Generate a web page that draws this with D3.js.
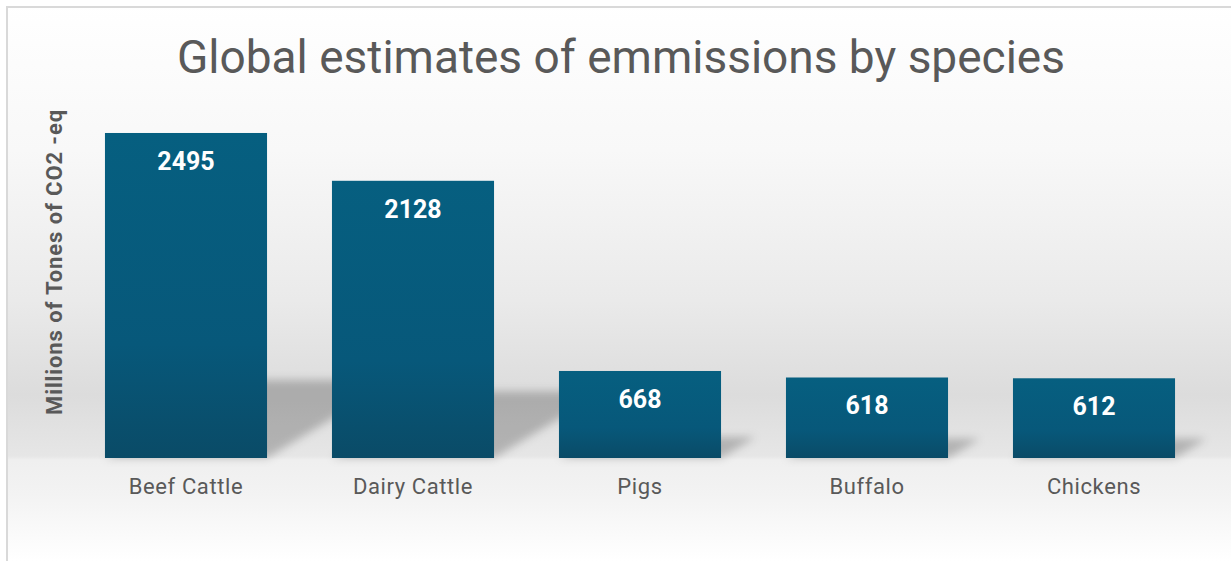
<!DOCTYPE html>
<html>
<head>
<meta charset="utf-8">
<script src="https://cdn.jsdelivr.net/npm/d3@7"></script>
<style>
  html, body { margin: 0; padding: 0; background: #ffffff; }
  svg { display: block; }
</style>
</head>
<body>
<svg id="chart" width="1231" height="561"></svg>
<script>
// Emissions by species (millions of tonnes CO2-eq)
const categories = ["Beef Cattle", "Dairy Cattle", "Pigs", "Buffalo", "Chickens"];
const emissions = [2495, 2128, 668, 618, 612];
const titleText = "Global estimates of emmissions by species";
const yAxisTitle = "Millions of Tones of CO2 -eq";

const W = 1231, H = 561;
const svg = d3.select("#chart");
const defs = svg.append("defs");

// Backdrop: white top, grey band behind the bases, pale floor
const bg = defs.append("linearGradient")
  .attr("id", "bgGrad").attr("gradientUnits", "userSpaceOnUse")
  .attr("x1", 0).attr("y1", 0).attr("x2", 0).attr("y2", H);
[[0, "#ffffff"], [150, "#f8f8f8"], [300, "#eaeaea"], [395, "#dcdcdc"],
 [456, "#e6e6e6"], [460, "#efefef"], [495, "#f3f3f3"], [561, "#ffffff"]]
  .forEach(([y, c]) => bg.append("stop").attr("offset", y / H).attr("stop-color", c));

const barGrad = defs.append("linearGradient")
  .attr("id", "barGrad").attr("x1", 0).attr("y1", 0).attr("x2", 0).attr("y2", 1);
barGrad.append("stop").attr("offset", 0).attr("stop-color", "#065f80");
barGrad.append("stop").attr("offset", 0.65).attr("stop-color", "#07587a");
barGrad.append("stop").attr("offset", 1).attr("stop-color", "#0a4b67");

const blur = defs.append("filter").attr("id", "shadowBlur")
  .attr("x", "-20%").attr("y", "-20%").attr("width", "140%").attr("height", "140%");
blur.append("feGaussianBlur").attr("stdDeviation", 4);

svg.append("rect")
  .attr("x", 7).attr("y", 7).attr("width", W).attr("height", H)
  .attr("fill", "url(#bgGrad)")
  .attr("stroke", "#d9d9d9").attr("stroke-width", 2);

// Scales
const x = d3.scaleBand().domain(categories).range([72.5, 1207.5])
  .paddingInner(0.286).paddingOuter(0.143);
const y = d3.scaleLinear().domain([0, 3000]).range([458, 67.2]);

const data = categories.map((c, i) => ({ cat: c, value: emissions[i] }));

// Cast shadows leaning back to the right of each bar
const shadowG = svg.append("g").attr("filter", "url(#shadowBlur)");
shadowG.selectAll("path").data(data).join("path")
  .attr("d", d => {
    const x0 = x(d.cat), x1 = x0 + x.bandwidth();
    const yB = y(0);
    const hs = (yB - y(d.value)) * 0.24;
    const dx = hs * 1.65;
    return `M${x0},${yB}L${x1},${yB}L${x1 + dx},${yB - hs}L${x0 + dx},${yB - hs}Z`;
  })
  .attr("fill", "#000").attr("fill-opacity", 0.22);

// Bars
svg.append("g").selectAll("rect").data(data).join("rect")
  .attr("x", d => x(d.cat))
  .attr("y", d => y(d.value))
  .attr("width", x.bandwidth())
  .attr("height", d => y(0) - y(d.value))
  .attr("fill", "url(#barGrad)");

// Value labels inside bar tops
svg.append("g").selectAll("text").data(data).join("text")
  .attr("x", d => x(d.cat) + x.bandwidth() / 2)
  .attr("y", d => y(d.value) + 37)
  .attr("text-anchor", "middle")
  .attr("font-family", "Roboto, 'Liberation Sans', sans-serif")
  .attr("font-weight", "bold")
  .attr("font-size", 25)
  .attr("fill", "#ffffff")
  .text(d => d.value);

// Category axis
const xAxis = svg.append("g")
  .attr("transform", `translate(0,${y(0)})`)
  .call(d3.axisBottom(x).tickSize(0).tickPadding(20));
xAxis.select(".domain").remove();
xAxis.selectAll("text")
  .attr("font-family", "Roboto, 'Liberation Sans', sans-serif")
  .attr("font-size", 22)
  .attr("letter-spacing", 0.6)
  .attr("fill", "#595959");

// Title
svg.append("text")
  .attr("x", 621).attr("y", 73)
  .attr("text-anchor", "middle")
  .attr("font-family", "Roboto, 'Liberation Sans', sans-serif")
  .attr("font-size", 46)
  .attr("fill", "#595959")
  .text(titleText);

// Vertical axis title
svg.append("text")
  .attr("transform", "translate(62,262) rotate(-90)")
  .attr("text-anchor", "middle")
  .attr("font-family", "Roboto, 'Liberation Sans', sans-serif")
  .attr("font-weight", "bold")
  .attr("font-size", 22)
  .attr("letter-spacing", 0.9)
  .attr("fill", "#595959")
  .text(yAxisTitle);
</script>
</body>
</html>
